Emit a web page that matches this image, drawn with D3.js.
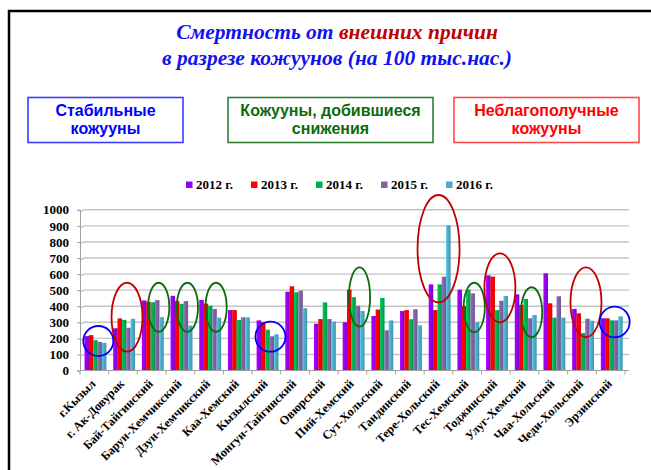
<!DOCTYPE html>
<html><head><meta charset="utf-8">
<script src="https://cdn.jsdelivr.net/npm/d3@7"></script>
<style>body{margin:0;background:#fff}svg{display:block}</style>
</head><body>
<svg id="c" width="651" height="470"></svg>
<script>
// ---- data ----
const categories = ["г.Кызыл","г. Ак-Довурак","Бай-Тайгинский","Барун-Хемчикский","Дзун-Хемчикский","Каа-Хемский","Кызылский","Монгун-Тайгинский","Овюрский","Пий-Хемский","Сут-Хольский","Тандинский","Тере-Хольский","Тес-Хемский","Тоджинский","Улуг-Хемский","Чаа-Хольский","Чеди-Хольский","Эрзинский"];
const years = ["2012 г.","2013 г.","2014 г.","2015 г.","2016 г."];
const v2012 = [214,263,436,465,439,376,312,490,291,300,339,370,536,503,592,474,605,383,325];
const v2013 = [220,324,427,432,416,376,300,524,320,503,379,376,376,401,584,408,418,356,325];
const v2014 = [189,315,425,415,403,314,254,487,424,456,451,319,536,503,376,445,329,233,312];
const v2015 = [178,266,438,432,383,331,213,497,320,403,250,381,584,480,434,325,462,322,312];
const v2016 = [172,322,332,280,329,331,225,387,304,370,312,281,904,300,464,345,329,310,337];
const yTicks = [0,100,200,300,400,500,600,700,800,900,1000];
const groupLabels = [["Стабильные","кожууны"],["Кожууны, добившиеся","снижения"],["Неблагополучные","кожууны"]];
// highlighted districts: category, group (0 stable,1 improving,2 troubled), value range covered
const highlights = [
  ["г.Кызыл",0,90,277],["г. Ак-Довурак",2,117,546],["Бай-Тайгинский",1,241,546],
  ["Барун-Хемчикский",1,241,546],["Дзун-Хемчикский",1,241,546],["Кызылский",0,117,304],
  ["Пий-Хемский",1,273,642],["Тере-Хольский",2,424,1092],["Тес-Хемский",1,238,546],
  ["Тоджинский",2,300,729],["Улуг-Хемский",1,207,518],["Чеди-Хольский",2,207,642],
  ["Эрзинский",0,207,397]
];

// ---- styles ----
const series = [v2012,v2013,v2014,v2015,v2016];
const colors = ["#9400f5","#ff0000","#00b050","#8064a2","#4bacc6"];
const groupColors = ["#0000ff","#0b6b0b","#ff0000"];
const boxStroke = ["#3b3bff","#2e7d32","#ff4a4a"];
const ellColors = ["#0000ff","#0a6b0a","#c00000"];
const serif = "'Liberation Serif','Times New Roman',serif";
const sans = "'Liberation Sans',Arial,sans-serif";

const svg = d3.select("#c");
const defs = svg.append("defs");
colors.forEach((c,i)=>{
  const g = defs.append("linearGradient").attr("id","g"+i).attr("x1","0").attr("x2","1").attr("y1","0").attr("y2","0");
  g.append("stop").attr("offset","0%").attr("stop-color",d3.color(c).brighter(0.5));
  g.append("stop").attr("offset","45%").attr("stop-color",c);
  g.append("stop").attr("offset","100%").attr("stop-color",d3.color(c).darker(0.4));
});

// frame
svg.append("path").attr("d","M9,470 V11 H651").attr("fill","none").attr("stroke","#000").attr("stroke-width",2.5);

// title
const t = svg.append("text").attr("x",337).attr("text-anchor","middle")
  .attr("font-family",serif).attr("font-weight","bold").attr("font-style","italic").attr("font-size",21.5);
const t1 = t.append("tspan").attr("x",337).attr("y",39);
t1.append("tspan").attr("fill","#1212ee").text("Смертность от ");
t1.append("tspan").attr("fill","#c00000").text("внешних причин");
t.append("tspan").attr("x",337).attr("y",65).attr("fill","#1212ee").text("в разрезе кожуунов (на 100 тыс.нас.)");

// group boxes
const boxes = [[28,155],[228,205],[454,185]];
boxes.forEach(([bx,bw],i)=>{
  svg.append("rect").attr("x",bx).attr("y",97.5).attr("width",bw).attr("height",45)
    .attr("fill","#fff").attr("stroke",boxStroke[i]).attr("stroke-width",1.6);
  const tx = svg.append("text").attr("text-anchor","middle").attr("font-family",sans)
    .attr("font-weight","bold").attr("font-size",16).attr("fill",groupColors[i]);
  groupLabels[i].forEach((s,j)=>tx.append("tspan").attr("x",bx+bw/2).attr("y",116+j*18).text(s));
});

// scales
const x = d3.scaleBand().domain(categories).range([80,625]).padding(0);
const inner = d3.scaleBand().domain(d3.range(5)).range([4.5,26.2]).padding(0);
const y = d3.scaleLinear().domain([0,1000]).range([370.5,209.8]);

// gridlines
svg.append("g").selectAll("path").data(yTicks.slice(1)).join("path")
  .attr("d",d=>`M80,${y(d)+2} L84,${y(d)} H629`).attr("fill","none")
  .attr("stroke","#c4c4c4").attr("stroke-width",1.4);

// y axis
const ya = svg.append("g").attr("transform","translate(80,0)")
  .call(d3.axisLeft(y).tickValues(yTicks).tickFormat(d3.format("d")).tickSize(3).tickPadding(8));
ya.select(".domain").attr("stroke","#a0a0a0");
ya.selectAll(".tick line").attr("stroke","#a0a0a0");
ya.selectAll("text").attr("font-family",serif).attr("font-weight","bold").attr("font-size",13).attr("fill","#000");

// bars
const gs = svg.append("g").selectAll("g").data(categories).join("g")
  .attr("transform",d=>`translate(${x(d)},0)`);
gs.selectAll("rect").data((d,i)=>series.map((s,k)=>({k,v:s[i]}))).join("rect")
  .attr("x",d=>inner(d.k)).attr("width",inner.bandwidth()+0.2)
  .attr("y",d=>y(d.v)).attr("height",d=>y(0)-y(d.v))
  .attr("fill",d=>`url(#g${d.k})`);

// x axis
const xa = svg.append("g").attr("transform",`translate(0,${y(0)})`);
xa.append("path").attr("d",`M80,0 H629`).attr("stroke","#a0a0a0").attr("stroke-width",1.2);
xa.selectAll("line").data(d3.range(categories.length+1)).join("line")
  .attr("x1",i=>80+i*x.bandwidth()).attr("x2",i=>80+i*x.bandwidth())
  .attr("y1",0).attr("y2",4).attr("stroke","#a0a0a0");
xa.selectAll("text").data(categories).join("text")
  .attr("transform",d=>`translate(${x(d)+x.bandwidth()/2+2},14) rotate(-45)`)
  .attr("text-anchor","end").attr("font-family",serif).attr("font-weight","bold")
  .attr("font-size",12.3).attr("fill","#000").text(d=>d);

// legend
const lg = svg.append("g").selectAll("g").data(years).join("g")
  .attr("transform",(d,i)=>`translate(${186+i*65},0)`);
lg.append("rect").attr("x",0).attr("y",181.5).attr("width",6.5).attr("height",6.5).attr("fill",(d,i)=>colors[i]);
lg.append("text").attr("x",10).attr("y",189).attr("font-family",serif).attr("font-weight","bold")
  .attr("font-size",13).attr("fill","#000").text(d=>d);

// highlight ellipses
const rxBy = {0:15,1:10.6,2:15.5};
svg.append("g").selectAll("ellipse").data(highlights).join("ellipse")
  .attr("cx",d=>x(d[0])+x.bandwidth()/2+(d[1]===1?7:(d[0]==="Тере-Хольский"?0:4)))
  .attr("cy",d=>(y(d[2])+y(d[3]))/2)
  .attr("rx",d=>d[0]==="Тере-Хольский"?21:rxBy[d[1]])
  .attr("ry",d=>(y(d[2])-y(d[3]))/2)
  .attr("fill","none").attr("stroke",d=>ellColors[d[1]]).attr("stroke-width",1.8);
</script>
</body></html>
